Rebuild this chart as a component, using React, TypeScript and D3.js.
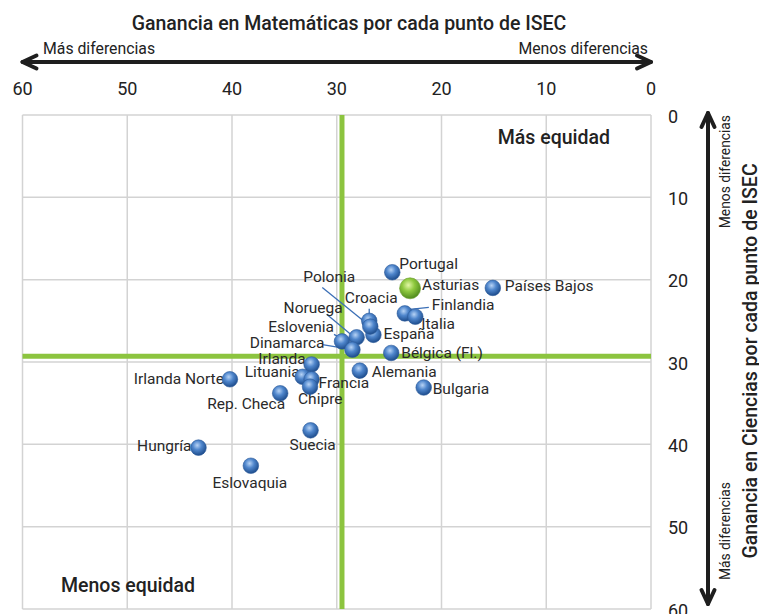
import React from "react";
import * as d3 from "d3";

// Gain per ISEC point: maths (x) and science (y)
const countries = [
  "Portugal", "Asturias", "Países Bajos", "Finlandia", "Italia", "España",
  "Croacia", "Polonia", "Noruega", "Eslovenia", "Dinamarca", "Bélgica (Fl.)",
  "Alemania", "Bulgaria", "Irlanda", "Lituania", "Francia", "Chipre",
  "Irlanda Norte", "Rep. Checa", "Hungría", "Suecia", "Eslovaquia",
];
const mathGain = [
  24.7, 23.0, 15.1, 23.5, 22.5, 26.5,
  26.9, 26.8, 28.1, 29.5, 28.5, 24.8,
  27.8, 21.7, 32.4, 33.25, 32.4, 32.55,
  40.2, 35.4, 43.2, 32.5, 38.2,
];
const scienceGain = [
  19.1, 21.05, 21.0, 24.1, 24.5, 26.7,
  25.0, 25.7, 27.0, 27.5, 28.5, 28.9,
  31.05, 33.1, 30.3, 31.8, 32.1, 33.0,
  32.1, 33.8, 40.4, 38.3, 42.6,
];
const highlighted = "Asturias";
const avgMath = 29.5;
const avgScience = 29.3;
const ticks = [0, 10, 20, 30, 40, 50, 60];

// label placement relative to the bubble centre
type Place = { dx: number; dy: number; anchor?: string; lead?: [number, number, number, number] };
const placement: Record<string, Place> = {
  "Portugal": { dx: 7, dy: -8 },
  "Asturias": { dx: 12, dy: -3 },
  "Países Bajos": { dx: 12, dy: -2 },
  "Finlandia": { dx: 27, dy: -8, lead: [5, -4, 24, -6] },
  "Italia": { dx: 6, dy: 7 },
  "España": { dx: 10, dy: -1 },
  "Croacia": { dx: 2, dy: -23, anchor: "middle", lead: [0, -12, 0, -6] },
  "Polonia": { dx: -41, dy: -50, anchor: "middle", lead: [-48, -39, -6, -5] },
  "Noruega": { dx: -14, dy: -29, anchor: "end", lead: [-30, -23, -6, -3] },
  "Eslovenia": { dx: -8, dy: -14, anchor: "end", lead: [-8, -7, 1, -2] },
  "Dinamarca": { dx: -28, dy: -7, anchor: "end", lead: [-30, -5, -6, -1] },
  "Bélgica (Fl.)": { dx: 10, dy: 0 },
  "Alemania": { dx: 12, dy: 1 },
  "Bulgaria": { dx: 9, dy: 1 },
  "Irlanda": { dx: -6, dy: -5, anchor: "end" },
  "Lituania": { dx: -3, dy: -5, anchor: "end" },
  "Francia": { dx: 7, dy: 4 },
  "Chipre": { dx: -12, dy: 12 },
  "Irlanda Norte": { dx: -6, dy: 0, anchor: "end" },
  "Rep. Checa": { dx: -34, dy: 11, anchor: "middle" },
  "Hungría": { dx: -7, dy: -2, anchor: "end" },
  "Suecia": { dx: 2, dy: 15, anchor: "middle" },
  "Eslovaquia": { dx: -1, dy: 17, anchor: "middle" },
};

const W = 759;
const H = 614;
const font = "Roboto, 'Noto Sans', sans-serif";

export default function App() {
  const x = d3.scaleLinear().domain([60, 0]).range([22.5, 651]);
  const y = d3.scaleLinear().domain([0, 60]).range([115, 609]);

  const points = countries.map((name, i) => ({
    name,
    cx: x(mathGain[i]),
    cy: y(scienceGain[i]),
    hl: name === highlighted,
  }));
  const ordered = [...points].sort((a, b) => Number(a.hl) - Number(b.hl));

  const [x0, x1] = x.range();
  const [y0, y1] = y.range();
  const arrowY = 62;
  const arrowX = 708;

  return (
    <svg width={W} height={H} style={{ position: "absolute", left: 0, top: 0, fontFamily: font }}>
      <defs>
        <radialGradient id="blueBall" cx="0.42" cy="0.35" r="0.65">
          <stop offset="0" stopColor="#b7d3f5" />
          <stop offset="0.45" stopColor="#4f86cc" />
          <stop offset="1" stopColor="#1d4c8c" />
        </radialGradient>
        <radialGradient id="greenBall" cx="0.42" cy="0.35" r="0.65">
          <stop offset="0" stopColor="#e3f7a6" />
          <stop offset="0.45" stopColor="#8fc93f" />
          <stop offset="1" stopColor="#4f8a1c" />
        </radialGradient>
      </defs>
      <rect width={W} height={H} fill="#fff" />

      {/* grid */}
      {ticks.map((t) => (
        <g key={"g" + t}>
          <line x1={x(t)} x2={x(t)} y1={y0} y2={y1} stroke="#d3d3d3" strokeWidth={1.5} />
          <line x1={x0} x2={x1} y1={y(t)} y2={y(t)} stroke="#d3d3d3" strokeWidth={1.5} />
        </g>
      ))}

      {/* averages */}
      <line x1={x(avgMath)} x2={x(avgMath)} y1={y0} y2={y1} stroke="#8cc43f" strokeWidth={5} />
      <line x1={x0} x2={x1} y1={y(avgScience)} y2={y(avgScience)} stroke="#8cc43f" strokeWidth={5} />

      {/* top axis */}
      <text x={349} y={23} textAnchor="middle" dominantBaseline="central" fontSize={19.5} fontWeight={500} fill="#222">
        Ganancia en Matemáticas por cada punto de ISEC
      </text>
      <text x={43} y={48} dominantBaseline="central" fontSize={15.8} fill="#222">Más diferencias</text>
      <text x={648} y={48} textAnchor="end" dominantBaseline="central" fontSize={15.8} fill="#222">Menos diferencias</text>
      <g stroke="#1e1e1e" strokeWidth={4} fill="none" strokeLinecap="round" strokeLinejoin="round">
        <line x1={x0} x2={x1} y1={arrowY} y2={arrowY} />
        <polyline points={`${x0 + 14},${arrowY - 6.5} ${x0},${arrowY} ${x0 + 14},${arrowY + 6.5}`} />
        <polyline points={`${x1 - 14},${arrowY - 6.5} ${x1},${arrowY} ${x1 - 14},${arrowY + 6.5}`} />
      </g>
      {ticks.map((t) => (
        <text key={"tx" + t} x={x(t)} y={88} textAnchor="middle" dominantBaseline="central" fontSize={18} fill="#222">
          {t}
        </text>
      ))}

      {/* right axis */}
      {ticks.map((t) => (
        <text key={"ty" + t} x={668} y={y(t) + 1} dominantBaseline="central" fontSize={18} fill="#222">
          {t}
        </text>
      ))}
      <g stroke="#1e1e1e" strokeWidth={4} fill="none" strokeLinecap="round" strokeLinejoin="round">
        <line x1={arrowX} x2={arrowX} y1={y0 - 2} y2={y1 - 5} />
        <polyline points={`${arrowX - 6.5},${y0 + 12} ${arrowX},${y0 - 2} ${arrowX + 6.5},${y0 + 12}`} />
        <polyline points={`${arrowX - 6.5},${y1 - 19} ${arrowX},${y1 - 5} ${arrowX + 6.5},${y1 - 19}`} />
      </g>
      <text transform={`translate(725,115) rotate(-90)`} textAnchor="end" dominantBaseline="central" fontSize={13.8} fill="#222">
        Menos diferencias
      </text>
      <text transform={`translate(725,580) rotate(-90)`} textAnchor="start" dominantBaseline="central" fontSize={13.8} fill="#222">
        Más diferencias
      </text>
      <text transform={`translate(750,361) rotate(-90)`} textAnchor="middle" dominantBaseline="central" fontSize={19.5} fontWeight={500} fill="#222">
        Ganancia en Ciencias por cada punto de ISEC
      </text>

      {/* quadrant notes */}
      <text x={610} y={137} textAnchor="end" dominantBaseline="central" fontSize={19.5} fontWeight={500} fill="#222">
        Más equidad
      </text>
      <text x={61} y={585} dominantBaseline="central" fontSize={19.5} fontWeight={500} fill="#222">
        Menos equidad
      </text>

      {/* leader lines */}
      {points.map((p) => {
        const l = placement[p.name]?.lead;
        if (!l) return null;
        return (
          <line key={"l" + p.name} x1={p.cx + l[0]} y1={p.cy + l[1]} x2={p.cx + l[2]} y2={p.cy + l[3]}
            stroke="#3b6fb6" strokeWidth={1.3} />
        );
      })}

      {/* labels */}
      {points.map((p) => {
        const pl = placement[p.name];
        return (
          <text key={"t" + p.name} x={p.cx + pl.dx} y={p.cy + pl.dy} textAnchor={pl.anchor ?? "start"}
            dominantBaseline="central" fontSize={15.5} fill="#2a2a2a">
            {p.name}
          </text>
        );
      })}

      {/* bubbles */}
      {ordered.map((p) => (
        <circle key={"c" + p.name} cx={p.cx} cy={p.cy} r={p.hl ? 10.5 : 7.8}
          fill={p.hl ? "url(#greenBall)" : "url(#blueBall)"}
          stroke={p.hl ? "#6b9e2e" : "#2b5a9a"} strokeWidth={0.6} />
      ))}
    </svg>
  );
}
